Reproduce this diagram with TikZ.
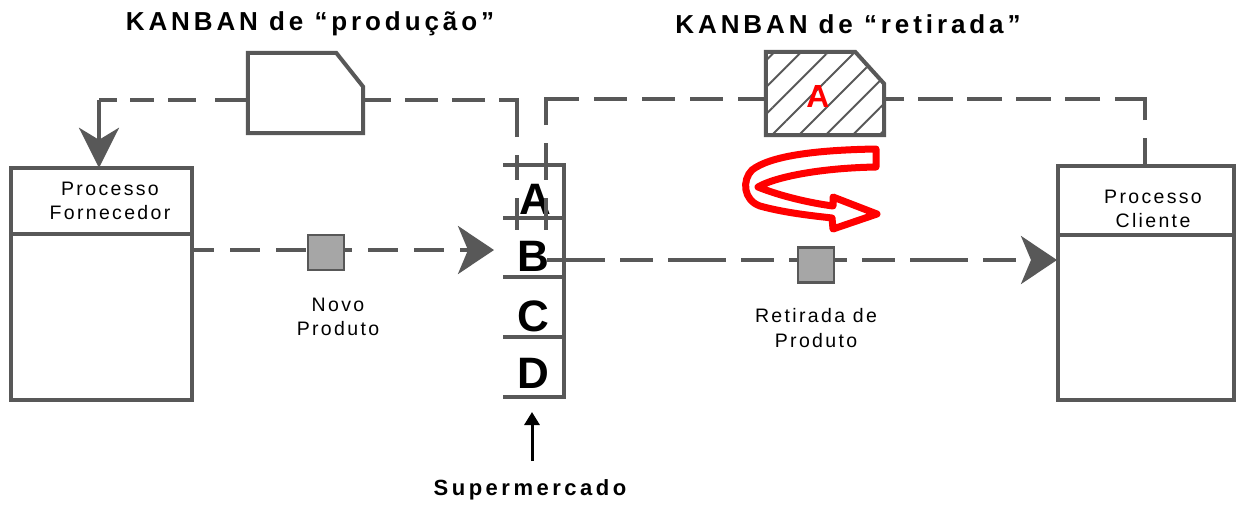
\documentclass[tikz,border=0pt]{standalone}
\usepackage{fontspec}
\setmainfont{Liberation Sans}
\newfontfamily\spacedfont[LetterSpace=12]{Liberation Sans}
\newfontfamily\titlefont[LetterSpace=15]{Liberation Sans}
\newfontfamily\supfont[LetterSpace=16]{Liberation Sans}
\usetikzlibrary{arrows.meta,calc,patterns.meta}
\definecolor{lg}{HTML}{585858}
\begin{document}
\begin{tikzpicture}[x=1pt,y=-1pt,
  gl/.style={draw=lg,line width=4pt},
  dl/.style={draw=lg,line width=4pt,dash pattern=on 33pt off 15pt},
  bigtip/.style={-{Stealth[length=36pt,width=48pt,inset=10pt,fill=lg]}},
  boxnode/.style={inner sep=0pt,draw=none},
  smalltxt/.style={font=\spacedfont\fontsize{19.5}{24.5}\selectfont,align=center,inner sep=0pt},
  titletxt/.style={font=\titlefont\bfseries\fontsize{26}{28}\selectfont,inner sep=0pt},
  shelftxt/.style={font=\bfseries\fontsize{44}{44}\selectfont,inner sep=0pt},
  prodbox/.style={draw=lg,line width=2.5pt,fill=gray!70}
]
\useasboundingbox (0,0) rectangle (1236,504);

% titles
\node[titletxt] (t1) at (310,24) {KANBAN de “produção”};
\node[titletxt] (t2) at (848,24) {KANBAN de “retirada”};

% process boxes
\node[boxnode,minimum width=181pt,minimum height=232pt] (forn) at (101.5,284) {};
\draw[gl] (forn.south west) rectangle (forn.north east);
\draw[gl] (forn.west |- 0,234) -- (forn.east |- 0,234);
\node[smalltxt] (fornt) at (110,201) {Processo\\Fornecedor};

\node[boxnode,minimum width=176pt,minimum height=234pt] (cli) at (1146,283) {};
\draw[gl] (cli.south west) rectangle (cli.north east);
\draw[gl] (cli.west |- 0,235) -- (cli.east |- 0,235);
\node[smalltxt] (clit) at (1153,209) {Processo\\Cliente};

% supermarket shelves
\coordinate (shTL) at (503,165);
\coordinate (shBR) at (564,397);
\draw[gl] (shTL) -- (shTL -| shBR) -- (shBR) -- (shBR -| shTL);
\foreach \yy in {218,277,337} \draw[gl] (503,\yy) -- (564,\yy);
\node[shelftxt] (sA) at (535,199) {A};
\node[shelftxt] (sB) at (533,256) {B};
\node[shelftxt] (sC) at (533,316) {C};
\node[shelftxt] (sD) at (533,373) {D};

% kanban cards
\node[boxnode,minimum width=115pt,minimum height=80pt] (k1) at (305.5,93) {};
\node[boxnode,minimum width=118pt,minimum height=83pt] (k2) at (825,93.5) {};

% production kanban loop
\coordinate (c1) at (517,100);
\coordinate (c2) at (99,100);
\draw[gl] (517,155) -- (517,180) (517,198) -- (517,230);
\draw[dl,dash pattern=on 55pt off 14pt on 33pt off 14pt on 33pt off 14pt on 33pt off 14pt]
  (517,137) -- (c1) -- (k1.east |- c1);
\draw[dl,dash pattern=on 18pt off 13pt on 24pt off 14pt on 28pt off 19pt on 40pt off 10pt]
  (c2) -- (k1.west |- c2);
\draw[gl,-{Stealth[length=40pt,width=40pt,inset=12pt,fill=lg]}] (c2) -- (forn.north -| c2);
\draw[gl,fill=white] (k1.south west) -- (k1.north west) -- ($(k1.north east)+(-27,0)$) -- ($(k1.north east)+(0,34)$) -- (k1.south east) -- cycle;

% withdrawal kanban loop
\coordinate (c3) at (546,99);
\coordinate (c4) at (1145,99);
\draw[gl] (546,143) -- (546,180) (546,198) -- (546,230);
\draw[dl,dash pattern=on 59pt off 15pt on 33pt off 15pt on 33pt off 15pt on 33pt off 15pt on 40pt off 15pt]
  (546,125) -- (c3) -- (k2.west |- c3);
\draw[dl,dash pattern=on 51pt off 15pt on 35pt off 14pt on 35pt off 14pt on 35pt off 14pt on 35pt off 14pt on 40pt off 10pt]
  (1145,120) -- (c4) -- (k2.east |- c4);
\draw[gl] (1145,138) -- (cli.north -| c4);
\draw[gl,pattern={Lines[angle=45,distance=19pt,line width=2pt]},pattern color=lg]
  (k2.south west) -- (k2.north west) -- ($(k2.north east)+(-29,0)$) -- ($(k2.north east)+(0,32)$) -- (k2.south east) -- cycle;
\node[font=\bfseries\fontsize{32}{32}\selectfont,text=red,inner sep=0pt] (kA) at (818,96) {A};

% material flows
\node[boxnode,minimum width=36pt,minimum height=35pt] (p1) at (326,252.5) {};
\node[boxnode,minimum width=36pt,minimum height=35pt] (p2) at (816,265) {};
\coordinate (fin) at (494,250);
\coordinate (cin) at (1057,260);
\draw[dl,bigtip,dash pattern=on 30pt off 16pt,dash phase=8pt] (forn.east |- fin) -- (fin);
\draw[dl,bigtip,dash pattern=on 58pt off 15pt on 33pt off 15pt,dash phase=0pt] (547,260) -- (cin);
\draw[prodbox] (p1.south west) rectangle (p1.north east);
\draw[prodbox] (p2.south west) rectangle (p2.north east);
\node[smalltxt] (p1t) at (338,317) {Novo\\Produto};
\node[smalltxt] (p2t) at (816,328) {Retirada de\\Produto};

% red turn arrow
\draw[red,line width=7pt,line join=round]
  (876,149) .. controls (815,150) and (770,156) .. (752,170)
  .. controls (742,180) and (743,200) .. (760,206)
  .. controls (785,213) and (815,216) .. (832,218)
  -- (833,229) -- (877,214) -- (833,197) -- (833,206)
  .. controls (810,203) and (780,196) .. (758,187)
  .. controls (775,177) and (820,168) .. (876,167) -- cycle;

% supermarket label
\node[font=\supfont\bfseries\fontsize{22}{24}\selectfont,inner sep=0pt] (sup) at (530,490) {Supermercado};
\coordinate (supTip) at (532,412);
\coordinate (supTail) at (532,461);
\draw[black,line width=3pt,-{Triangle[length=13pt,width=15pt]}] (supTail) -- (supTip);
\end{tikzpicture}
\end{document}
